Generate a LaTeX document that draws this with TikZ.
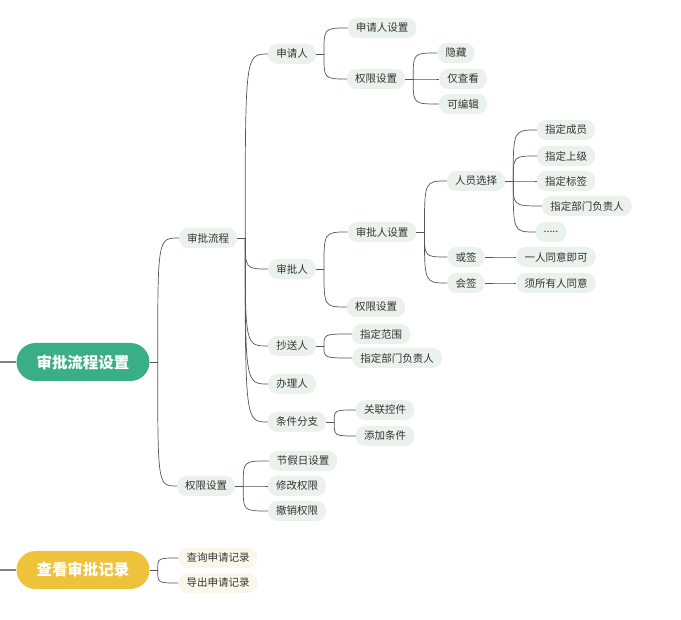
\documentclass[tikz,border=0pt]{standalone}
\usepackage{fontspec}
\setmainfont{Noto Sans CJK SC}
\begin{document}
\begin{tikzpicture}[x=1pt,y=-1pt,
  pill/.style={fill=pillc,rounded corners=9pt,minimum height=20pt,inner xsep=8pt,inner ysep=0pt,font=\fontsize{10.5}{12}\selectfont,text=txtc},
  ypill/.style={pill,fill=ypillc},
  root/.style={rounded corners=19pt,minimum height=38pt,minimum width=133pt,text=white,font=\fontsize{15.5}{18}\selectfont\bfseries},
  con/.style={draw=linec,line width=0.7pt}]
\definecolor{pillc}{HTML}{EBF1EC}
\definecolor{ypillc}{HTML}{FBF6EA}
\definecolor{txtc}{HTML}{333333}
\definecolor{linec}{HTML}{555555}
\definecolor{greenc}{HTML}{3AAE86}
\definecolor{yellowc}{HTML}{EEC23A}
\useasboundingbox (0,0) rectangle (681,620);
% roots
\node[root,fill=greenc] (r1) at (83,362) {审批流程设置};
\node[root,fill=yellowc] (r2) at (83,570) {查看审批记录};
\coordinate (l1) at (0,362); \coordinate (l2) at (0,570);
\draw[con,line width=2pt,draw=gray] (l1) -- (r1.west);
\draw[con,line width=2pt,draw=gray] (l2) -- (r2.west);
% level 1
\node[pill] (a1) at (208,238) {审批流程};
\node[pill] (a2) at (206,486) {权限设置};
\node[ypill] (y1) at (218,558) {查询申请记录};
\node[ypill] (y2) at (218,583) {导出申请记录};
% level 2
\node[pill] (b1) at (292,54) {申请人};
\node[pill] (b2) at (292,269) {审批人};
\node[pill] (b3) at (292,346) {抄送人};
\node[pill] (b4) at (292,384) {办理人};
\node[pill] (b5) at (297,422) {条件分支};
\node[pill] (c1) at (303,461) {节假日设置};
\node[pill] (c2) at (297,486) {修改权限};
\node[pill] (c3) at (297,511) {撤销权限};
% level 3
\node[pill] (d1) at (382,28) {申请人设置};
\node[pill] (d2) at (376,79) {权限设置};
\node[pill] (e1) at (382,232) {审批人设置};
\node[pill] (e2) at (376,307) {权限设置};
\node[pill] (f1) at (381,334) {指定范围};
\node[pill] (f2) at (397,358) {指定部门负责人};
\node[pill] (g1) at (385,410) {关联控件};
\node[pill] (g2) at (385,436) {添加条件};
% level 4
\node[pill] (h1) at (456,53) {隐藏};
\node[pill] (h2) at (463,79) {仅查看};
\node[pill] (h3) at (463,104) {可编辑};
\node[pill] (i1) at (476,181) {人员选择};
\node[pill] (i2) at (466,257) {或签};
\node[pill] (i3) at (466,283) {会签};
% level 5
\node[pill] (j1) at (566,130) {指定成员};
\node[pill] (j2) at (566,156) {指定上级};
\node[pill] (j3) at (566,181) {指定标签};
\node[pill] (j4) at (587,206) {指定部门负责人};
\node[pill] (j5) at (551,232) {.....};
\node[pill] (k1) at (556,257) {一人同意即可};
\node[pill] (k2) at (556,283) {须所有人同意};
% connectors
\newcommand\branch[3]{% parent, gap, children
  \coordinate (P#1) at ([xshift=#2pt]#1.east);
  \draw[con] (#1.east) -- (P#1);
  \foreach \c in {#3} \draw[con] (P#1) .. controls (P#1 |- \c.west) .. (\c.west);}
\branch{r1}{8}{a1,a2}
\branch{r2}{8}{y1,y2}
\branch{a1}{8}{b1,b2,b3,b4,b5}
\branch{a2}{8}{c1,c2,c3}
\branch{b1}{8}{d1,d2}
\branch{b2}{8}{e1,e2}
\branch{b3}{8}{f1,f2}
\branch{b5}{8}{g1,g2}
\branch{d2}{8}{h1,h2,h3}
\branch{e1}{8}{i1,i2,i3}
\branch{i1}{8}{j1,j2,j3,j4,j5}
\branch{i2}{8}{k1}
\branch{i3}{8}{k2}
\end{tikzpicture}
\end{document}
